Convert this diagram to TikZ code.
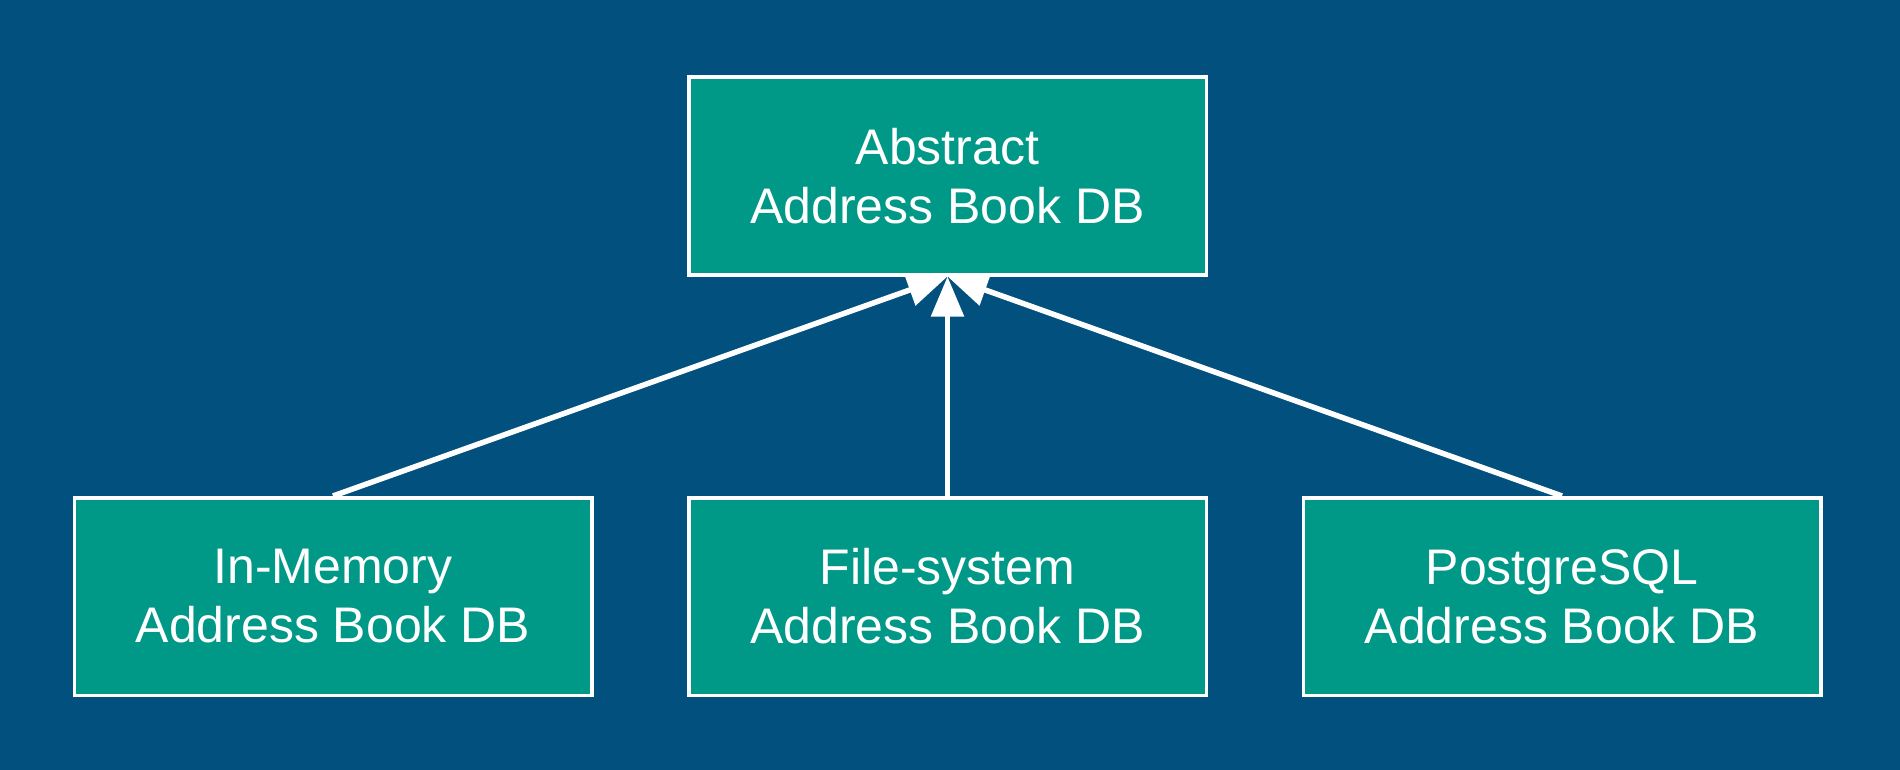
\documentclass[tikz,border=0pt]{standalone}
\usepackage{fontspec}
\setmainfont{Liberation Sans}
\usetikzlibrary{arrows.meta}
\definecolor{bgblue}{HTML}{02507D}
\definecolor{boxteal}{HTML}{009887}
\begin{document}
\begin{tikzpicture}[x=1pt,y=1pt,
  dbbox/.style={draw=white, line width=3.5pt, fill=boxteal, text=white,
    minimum width=517.5pt, minimum height=197.5pt, align=center,
    font=\fontsize{50pt}{59pt}\selectfont},
  inherit/.style={draw=white, line width=5.5pt,
    -{Triangle[length=40pt,width=32pt,fill=white]}}]
\fill[bgblue] (0,0) rectangle (1900,-770);
\useasboundingbox (0,0) rectangle (1900,-770);
\node[dbbox] (abs) at (947.5,-176) {Abstract\\Address Book DB};
\node[dbbox] (mem) at (333,-596.5) {In-Memory\\Address Book DB};
\node[dbbox] (fs) at (947.5,-596.5) {File-system\\Address Book DB};
\node[dbbox] (pg) at (1562,-596.5) {PostgreSQL\\Address Book DB};
\draw[inherit] (mem.north) -- (abs.south);
\draw[inherit] (fs.north) -- (abs.south);
\draw[inherit] (pg.north) -- (abs.south);
\end{tikzpicture}
\end{document}
